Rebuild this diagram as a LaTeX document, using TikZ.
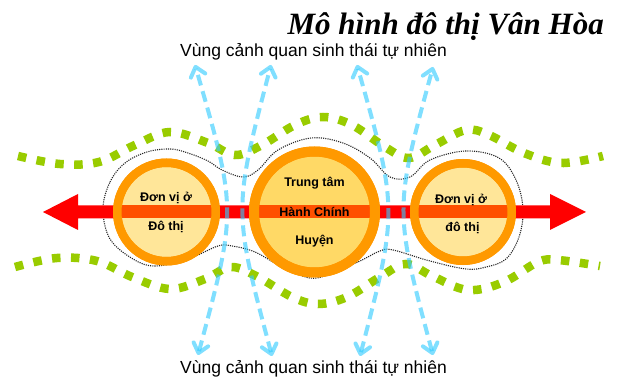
\documentclass[tikz,border=0pt]{standalone}
\usepackage{fontspec}
\setmainfont{Liberation Sans}
\newfontfamily\titlefont{Liberation Serif}
\usetikzlibrary{arrows.meta}
\definecolor{ringorange}{HTML}{FF9900}
\definecolor{smallfill}{HTML}{FFE699}
\definecolor{bigfill}{HTML}{FFD966}
\definecolor{arrowred}{HTML}{FF0000}
\definecolor{bandred}{HTML}{FF5000}
\definecolor{greendash}{HTML}{99CC00}
\definecolor{skyblue}{HTML}{33CCFF}
\begin{document}
\begin{tikzpicture}[x=1pt,y=-1pt,
  greenwave/.style={draw=greendash, line width=8.5pt, dash pattern=on 8.5pt off 10.5pt},
  outline/.style={draw=black!85, line width=1.1pt, dash pattern=on 1.1pt off 1.1pt},
  cityring/.style={circle, draw=ringorange, inner sep=0pt},
  flow/.style={draw=skyblue, draw opacity=0.62, line width=4pt, dash pattern=on 11pt off 6pt,
    {Straight Barb[length=9pt,width=15pt,round]}-{Straight Barb[length=9pt,width=15pt,round]}},
  ctext/.style={font=\bfseries\fontsize{12.5}{14}\selectfont, anchor=base, inner sep=0pt},
  zonetext/.style={font=\fontsize{17.5}{20}\selectfont, anchor=base, inner sep=0pt}
]
\useasboundingbox (0,0) rectangle (622,379);
\fill[white] (0,0) rectangle (622,379);

% title and zone labels
\node[anchor=base east, inner sep=0pt, font=\titlefont\bfseries\itshape\fontsize{31}{34}\selectfont] (title) at (604,35) {Mô hình đô thị Vân Hòa};
\node[zonetext] (ztop) at (313.5,57) {Vùng cảnh quan sinh thái tự nhiên};
\node[zonetext] (zbot) at (313.5,374) {Vùng cảnh quan sinh thái tự nhiên};

% green dashed belts
\draw[greenwave] plot[smooth, tension=0.6] coordinates {(18,156) (60,164) (99,162) (135,145) (170,132) (208,143) (235,155) (262,145) (295,125) (323,117) (352,125) (385,147) (409,158) (435,145) (466,130) (489,135) (524,153) (561,163) (603,156)};
\draw[greenwave] plot[smooth, tension=0.6] coordinates {(15,267) (57,258) (97,261) (132,277) (170,289) (205,279) (231,267) (258,277) (292,297) (318,304) (347,297) (380,277) (406,264) (432,276) (468,290) (504,282) (538,262) (558,260) (600,266)};

% dotted outline of the urban area
\draw[outline] plot[smooth cycle, tension=0.6] coordinates {(103,209) (110,182) (125,163) (147,152) (170,149) (188,153) (208,161) (222,170) (243,177) (258,170) (278,150) (311,138) (343,143) (370,158) (390,177) (410,177) (430,160) (466,151) (499,158) (516,180) (523,209) (519,237) (506,259) (486,267) (466,269) (430,261) (393,250) (380,251) (360,261) (330,274) (310,278) (282,267) (255,252) (232,246) (218,246) (188,259) (155,266) (133,259) (110,239)};

% red double arrow
\coordinate (ltip) at (43,212);
\coordinate (rtip) at (586,212);
\fill[arrowred] (ltip) -- (78,194) -- (78,205.5) -- (550,205.5) -- (550,194) -- (rtip) -- (550,230) -- (550,218.5) -- (78,218.5) -- (78,230) -- cycle;

% circles
\node[cityring, fill=smallfill, line width=8.5pt, minimum size=98.5pt] (L) at (166.5,212) {};
\node[cityring, fill=bigfill, line width=10pt, minimum size=121pt] (C) at (314.5,212) {};
\node[cityring, fill=smallfill, line width=8.5pt, minimum size=97.5pt] (R) at (463,212) {};
\fill[bandred] (119.5,205.5) rectangle (213.5,218.5);
\fill[bandred] (256.5,205.5) rectangle (372.5,218.5);
\fill[bandred] (417,205.5) rectangle (509,218.5);
\draw[ringorange, line width=8.5pt] (L.center) circle (49.25pt);
\draw[ringorange, line width=10pt] (C.center) circle (60.5pt);
\draw[ringorange, line width=8.5pt] (R.center) circle (48.75pt);

\node[ctext] (Lt1) at (166,202) {Đơn vị ở};
\node[ctext] (Lt2) at (166,231) {Đô thị};
\node[ctext] (Ct1) at (314.5,187) {Trung tâm};
\node[ctext] (Ct2) at (314.5,216.5) {Hành Chính};
\node[ctext] (Ct3) at (314.5,245) {Huyện};
\node[ctext] (Rt1) at (461,204) {Đơn vị ở};
\node[ctext] (Rt2) at (462.5,232) {đô thị};

% blue ecological corridors
\coordinate (a1) at (195,65);  \coordinate (b1) at (198,355);
\coordinate (a2) at (271,65);  \coordinate (b2) at (272,356);
\coordinate (a3) at (357,65);  \coordinate (b3) at (360,356);
\coordinate (a4) at (433,67);  \coordinate (b4) at (433,355);
\draw[flow] (b1) .. controls (237,210) .. (a1);
\draw[flow] (b2) .. controls (233,210) .. (a2);
\draw[flow] (b3) .. controls (398,210) .. (a3);
\draw[flow] (b4) .. controls (394,210) .. (a4);
\end{tikzpicture}
\end{document}
